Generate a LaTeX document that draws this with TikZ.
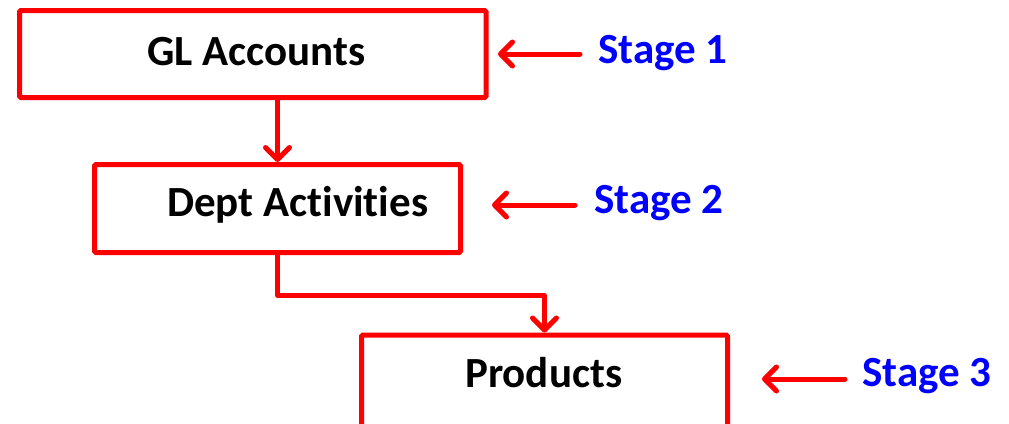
\documentclass[tikz,border=0pt]{standalone}
\usepackage{fontspec}
\setmainfont[Ligatures=NoCommon]{Carlito}
\usetikzlibrary{arrows.meta}
\begin{document}
\begin{tikzpicture}[x=1pt,y=-1pt,
  box/.style={draw=red, line width=5pt, rounded corners=1.5pt, inner sep=0pt},
  arr/.style={draw=red, line width=5pt, line cap=round, line join=round,
    -{Straight Barb[length=12pt,width=24pt,round]}},
  lbl/.style={anchor=base west, inner sep=0pt, font=\bfseries\fontsize{43}{43}\selectfont},
  stage/.style={lbl, text=blue}]
\useasboundingbox (0,0) rectangle (1009,423);
% boxes
\node[box, minimum width=466.5pt, minimum height=87pt] (gl) at (252.75,54) {};
\node[box, minimum width=366pt, minimum height=88pt] (dept) at (277.5,208.5) {};
\node[box, minimum width=366pt, minimum height=92pt] (prod) at (544.5,381) {};
% box texts
\node[lbl] (gltxt) at (147,65.5) {GL Accounts};
\node[lbl] (depttxt) at (167,216.5) {Dept Activities};
\node[lbl] (prodtxt) at (465,387.5) {Products};
% stage texts
\node[stage] (s1) at (598,63.5) {Stage 1};
\node[stage] (s2) at (594,213.5) {Stage 2};
\node[stage] (s3) at (862,386.5) {Stage 3};
% connectors
\draw[arr] (gl.south -| dept.north) -- (dept.north);
\draw[arr] (dept.south) -- ++(0,40.5) -| (prod.north);
% stage arrows
\coordinate (t1) at (498,54);
\coordinate (t2) at (492,205);
\coordinate (t3) at (762,379);
\draw[arr] ([xshift=-18pt]s1.west |- t1) -- (t1);
\draw[arr] ([xshift=-19pt]s2.west |- t2) -- (t2);
\draw[arr] ([xshift=-17pt]s3.west |- t3) -- (t3);
\end{tikzpicture}
\end{document}
